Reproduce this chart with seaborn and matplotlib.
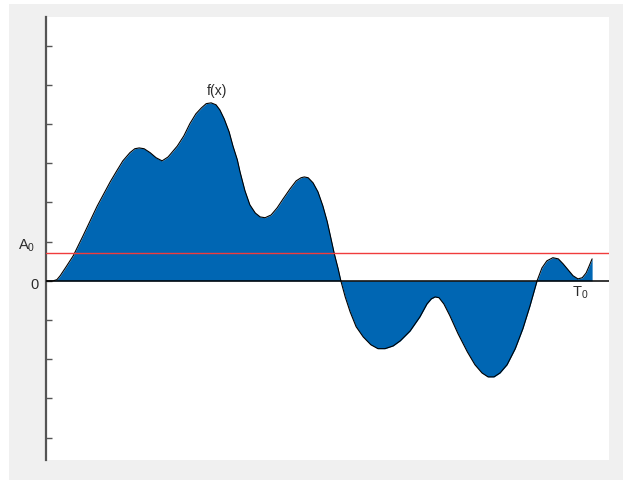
import matplotlib
matplotlib.use("Agg")
import matplotlib.pyplot as plt
from matplotlib.patches import Rectangle
import numpy as np
import pandas as pd
import seaborn as sns

# Sampled values of f(x) over one period [0, T0]
x_vals = [0.00, 0.11, 0.18, 0.24, 0.35, 0.48, 0.66, 0.79, 0.92, 1.16, 1.28, 1.39,
          1.52, 1.61, 1.69, 1.78, 1.89, 2.00, 2.11, 2.22, 2.39, 2.51, 2.62, 2.73,
          2.83, 2.92, 3.01, 3.10, 3.17, 3.25, 3.34, 3.41, 3.49, 3.54, 3.63, 3.72,
          3.82, 3.91, 4.00, 4.11, 4.22, 4.33, 4.46, 4.57, 4.66, 4.72, 4.79, 4.88,
          4.97, 5.06, 5.14, 5.21, 5.27, 5.34, 5.39, 5.47, 5.56, 5.67, 5.80, 5.94,
          6.07, 6.20, 6.35, 6.48, 6.66, 6.84, 6.97, 7.05, 7.12, 7.19, 7.28, 7.39,
          7.54, 7.71, 7.85, 7.98, 8.09, 8.20, 8.31, 8.44, 8.59, 8.73, 8.86, 8.99,
          9.08, 9.17, 9.28, 9.38, 9.47, 9.56, 9.65, 9.74, 9.82, 9.89, 9.94, 10.00]
f_vals = [0.00, 0.00, 0.03, 0.13, 0.36, 0.64, 1.15, 1.53, 1.91, 2.53, 2.81, 3.06,
          3.27, 3.37, 3.39, 3.37, 3.27, 3.14, 3.06, 3.16, 3.44, 3.70, 4.01, 4.26,
          4.41, 4.52, 4.54, 4.49, 4.36, 4.13, 3.80, 3.44, 3.09, 2.78, 2.30, 1.94,
          1.73, 1.63, 1.61, 1.68, 1.86, 2.09, 2.35, 2.55, 2.63, 2.65, 2.63, 2.50,
          2.27, 1.91, 1.51, 1.07, 0.69, 0.31, 0.00, -0.41, -0.79, -1.17, -1.43, -1.63,
          -1.73, -1.73, -1.66, -1.53, -1.28, -0.92, -0.59, -0.46, -0.41, -0.43, -0.59, -0.89,
          -1.35, -1.81, -2.14, -2.35, -2.45, -2.45, -2.35, -2.14, -1.73, -1.22, -0.64, 0.00,
          0.33, 0.51, 0.59, 0.56, 0.43, 0.28, 0.13, 0.05, 0.08, 0.20, 0.36, 0.56]

A0 = 0.70          # mean level
T0 = 10.0          # period
y_ticks = [-4, -3, -2, -1, 0, 1, 2, 3, 4, 5, 6]

df = pd.DataFrame({"x": x_vals, "f": f_vals})

sns.set_theme(style="white")
plt.rcParams["font.family"] = ["Liberation Sans", "DejaVu Sans"]
plt.rcParams["mathtext.fontset"] = "custom"
plt.rcParams["mathtext.rm"] = "Liberation Sans"
plt.rcParams["mathtext.it"] = "Liberation Sans"

fig = plt.figure(figsize=(6.23, 4.81), dpi=100, facecolor="white")
fig.patches.append(Rectangle((9 / 623, 0), 1 - 9 / 623, (481 - 5) / 481,
                             transform=fig.transFigure, facecolor="#f0f0f0",
                             edgecolor="none", zorder=-10))

ax = fig.add_axes([46 / 623, 20 / 481, 563 / 623, 443 / 481])
ax.set_facecolor("white")

ax.fill_between(df["x"], 0, df["f"], color="#0066b3", linewidth=0, zorder=2)
sns.lineplot(data=df, x="x", y="f", ax=ax, color="black", linewidth=0.8,
             sort=False, estimator=None, zorder=3)

ax.axhline(0, color="black", linewidth=1.1, zorder=4)
ax.axhline(A0, color="#f03c3c", linewidth=1.0, zorder=4)

ax.set_xlim(-0.02, 10.31)
ax.set_ylim(-4.57, 6.73)
ax.set_xlabel("")
ax.set_ylabel("")
ax.set_xticks([])
ax.set_yticks(y_ticks)
ax.set_yticklabels([])
ax.tick_params(axis="y", direction="in", length=4, width=1, color="#555555", left=True)

for side in ["top", "right", "bottom"]:
    ax.spines[side].set_visible(False)
ax.spines["left"].set_color("#555555")
ax.spines["left"].set_linewidth(1.6)

label_color = "#2a2a2a"
trans = ax.get_yaxis_transform()
ax.text(-0.0195, 0.92, "A$_0$", transform=trans, ha="right", va="center",
        fontsize=10.5, color=label_color)
ax.text(-0.013, -0.07, "0", transform=trans, ha="right", va="center",
        fontsize=10.5, color=label_color)
ax.text(3.12, 4.87, "f(x)", ha="center", va="center", fontsize=10, color=label_color)
ax.text(9.63, -0.08, "T$_0$", ha="left", va="top", fontsize=10.5, color=label_color)

fig.savefig("out.png", dpi=100, facecolor=fig.get_facecolor())
